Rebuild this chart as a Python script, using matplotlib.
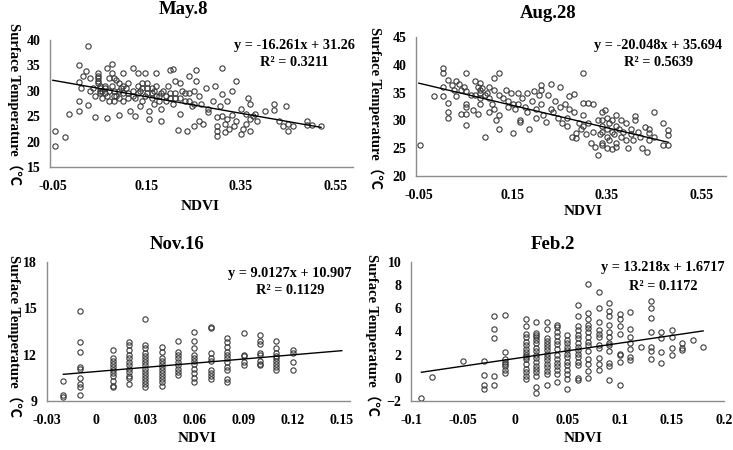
import matplotlib
matplotlib.use("Agg")
import matplotlib.pyplot as plt

# NDVI vs surface temperature, four dates

may_points = [
    (-0.046, 22.0), (-0.046, 19.2), (-0.025, 20.9), (-0.015, 25.5), (0.005, 35.0), (0.005, 31.8),
    (0.005, 28.0), (0.005, 26.0), (0.01, 30.5), (0.015, 33.0), (0.02, 33.8), (0.025, 38.8),
    (0.025, 27.3), (0.03, 30.0), (0.03, 32.5), (0.04, 24.8), (0.04, 29.0), (0.045, 33.5),
    (0.045, 33.0), (0.045, 32.5), (0.045, 32.0), (0.045, 31.5), (0.05, 31.0), (0.05, 30.5),
    (0.05, 30.0), (0.05, 29.5), (0.055, 28.5), (0.06, 30.5), (0.06, 31.0), (0.065, 34.5),
    (0.065, 29.0), (0.065, 24.6), (0.07, 32.5), (0.07, 28.0), (0.075, 35.3), (0.075, 33.5),
    (0.075, 31.0), (0.08, 32.5), (0.08, 30.0), (0.085, 32.2), (0.085, 29.0), (0.09, 25.2),
    (0.09, 28.5), (0.095, 30.5), (0.1, 33.5), (0.1, 31.0), (0.1, 28.0), (0.11, 29.5),
    (0.115, 26.0), (0.12, 34.5), (0.12, 30.0), (0.125, 28.5), (0.125, 25.0), (0.13, 33.5),
    (0.13, 31.0), (0.135, 27.0), (0.14, 30.5), (0.14, 28.0), (0.145, 33.5), (0.15, 31.5),
    (0.15, 29.5), (0.155, 26.0), (0.155, 24.5), (0.16, 30.5), (0.16, 28.5), (0.165, 27.5),
    (0.17, 33.5), (0.17, 31.0), (0.175, 29.0), (0.18, 26.5), (0.18, 24.0), (0.185, 30.0),
    (0.19, 28.0), (0.195, 31.0), (0.2, 34.0), (0.2, 29.5), (0.205, 34.3), (0.205, 27.5),
    (0.21, 32.0), (0.21, 28.5), (0.215, 22.2), (0.22, 31.5), (0.22, 25.5), (0.225, 30.0),
    (0.23, 28.0), (0.235, 22.0), (0.24, 33.0), (0.24, 29.5), (0.245, 27.0), (0.25, 30.0),
    (0.25, 23.0), (0.255, 32.0), (0.255, 34.0), (0.26, 29.0), (0.26, 24.0), (0.265, 27.5),
    (0.27, 23.5), (0.275, 30.5), (0.28, 26.5), (0.28, 25.8), (0.29, 28.0), (0.295, 31.0),
    (0.3, 24.8), (0.3, 23.0), (0.3, 22.0), (0.3, 21.2), (0.305, 27.0), (0.31, 34.5),
    (0.31, 29.3), (0.31, 25.0), (0.315, 23.5), (0.315, 21.8), (0.32, 28.0), (0.32, 24.5),
    (0.325, 22.5), (0.33, 30.0), (0.33, 25.3), (0.335, 23.0), (0.34, 32.0), (0.34, 24.0),
    (0.35, 26.5), (0.35, 21.5), (0.355, 22.5), (0.36, 25.5), (0.36, 23.5), (0.365, 28.5),
    (0.37, 27.5), (0.37, 24.5), (0.37, 22.0), (0.375, 25.0), (0.38, 25.5), (0.385, 24.0),
    (0.4, 26.0), (0.42, 27.5), (0.42, 26.2), (0.43, 24.0), (0.44, 23.0), (0.445, 27.0),
    (0.45, 22.0), (0.45, 23.5), (0.46, 23.0), (0.49, 24.0), (0.49, 23.2), (0.5, 23.3),
    (0.52, 23.0), (0.035, 30.5), (0.055, 30.0), (0.06, 29.5), (0.07, 30.0), (0.08, 29.0),
    (0.09, 30.0), (0.1, 29.5), (0.105, 30.5), (0.11, 28.5), (0.12, 29.0), (0.13, 29.5),
    (0.135, 30.0), (0.145, 29.0), (0.15, 30.5), (0.16, 29.5), (0.165, 30.0), (0.175, 28.0),
    (0.18, 29.5), (0.19, 29.0), (0.2, 28.5), (0.21, 29.5), (0.22, 28.5), (0.23, 29.5),
    (0.24, 28.0), (0.25, 27.5), (0.08, 28.0), (0.09, 31.5), (0.11, 31.5), (0.14, 31.5),
    (0.17, 29.0),
]

aug_points = [
    (-0.048, 25.5), (-0.018, 34.3), (0.002, 39.4), (0.002, 38.5), (0.002, 36.0), (0.002, 34.4),
    (0.012, 37.3), (0.012, 33.1), (0.012, 31.6), (0.012, 30.4), (0.02, 36.3), (0.025, 35.5),
    (0.03, 37.0), (0.03, 34.3), (0.035, 36.5), (0.04, 35.5), (0.04, 31.2), (0.045, 36.0),
    (0.05, 38.5), (0.05, 35.3), (0.05, 33.0), (0.05, 32.5), (0.05, 31.2), (0.05, 29.2),
    (0.06, 34.5), (0.065, 31.8), (0.07, 37.0), (0.07, 34.5), (0.075, 36.0), (0.075, 31.2),
    (0.08, 36.8), (0.08, 35.5), (0.08, 35.0), (0.08, 34.0), (0.08, 33.0), (0.085, 35.8),
    (0.09, 34.5), (0.09, 27.0), (0.095, 35.0), (0.1, 36.0), (0.1, 34.0), (0.1, 31.5),
    (0.105, 33.0), (0.11, 37.7), (0.11, 35.5), (0.11, 32.0), (0.115, 30.0), (0.12, 38.5),
    (0.12, 34.5), (0.12, 31.0), (0.12, 28.4), (0.13, 34.0), (0.135, 35.5), (0.14, 33.5),
    (0.14, 32.5), (0.145, 35.0), (0.15, 33.0), (0.15, 27.8), (0.155, 32.0), (0.16, 35.0),
    (0.16, 33.0), (0.165, 30.0), (0.165, 29.8), (0.17, 34.0), (0.175, 32.5), (0.18, 35.0),
    (0.18, 31.5), (0.185, 28.5), (0.19, 33.5), (0.195, 35.3), (0.2, 32.0), (0.2, 30.5),
    (0.205, 34.5), (0.21, 36.4), (0.21, 35.5), (0.21, 33.0), (0.215, 31.0), (0.22, 29.8),
    (0.225, 34.5), (0.23, 36.6), (0.23, 32.0), (0.235, 31.5), (0.24, 33.5), (0.245, 30.5),
    (0.25, 36.0), (0.25, 32.5), (0.255, 29.5), (0.26, 33.0), (0.265, 30.5), (0.265, 29.0),
    (0.27, 34.3), (0.27, 32.0), (0.275, 27.0), (0.28, 34.8), (0.28, 31.5), (0.285, 27.8),
    (0.285, 26.8), (0.29, 29.5), (0.295, 28.5), (0.3, 38.5), (0.3, 33.2), (0.3, 31.0),
    (0.3, 29.0), (0.305, 27.5), (0.31, 33.2), (0.31, 29.5), (0.315, 26.0), (0.32, 33.0),
    (0.32, 28.0), (0.325, 25.2), (0.33, 23.8), (0.33, 30.0), (0.335, 27.5), (0.34, 31.5),
    (0.34, 30.0), (0.34, 29.0), (0.34, 28.0), (0.34, 26.0), (0.34, 25.5), (0.345, 31.8),
    (0.35, 30.5), (0.35, 28.5), (0.35, 27.0), (0.35, 25.0), (0.355, 29.5), (0.355, 26.5),
    (0.36, 30.0), (0.36, 28.0), (0.36, 24.8), (0.365, 27.5), (0.37, 31.0), (0.37, 29.0),
    (0.37, 26.0), (0.37, 25.3), (0.375, 28.5), (0.38, 30.0), (0.38, 27.0), (0.385, 28.0),
    (0.39, 29.5), (0.39, 26.5), (0.395, 25.0), (0.4, 28.5), (0.4, 27.5), (0.405, 26.5),
    (0.41, 30.8), (0.41, 30.0), (0.415, 28.0), (0.42, 27.0), (0.425, 25.0), (0.43, 28.8),
    (0.435, 24.3), (0.44, 28.5), (0.44, 27.8), (0.44, 26.5), (0.45, 31.6), (0.45, 27.0),
    (0.47, 29.5), (0.48, 28.2), (0.48, 27.4), (0.48, 25.5), (0.47, 25.5),
]

# Nov and Feb NDVI values are discrete, so points come in columns
nov_ndvi = [-0.02, -0.01, 0.01, 0.02, 0.03, 0.04, 0.05, 0.06, 0.07, 0.08, 0.09, 0.10, 0.11, 0.12]
nov_temp = [
    [10.3, 9.4, 9.25],
    [14.8, 12.8, 12.2, 11.2, 11.1, 10.5, 10.1, 9.9, 9.4],
    [12.3, 11.8, 11.6, 11.4, 11.2, 11.0, 10.8, 10.6, 10.3, 10.0, 9.9],
    [12.8, 12.6, 12.3, 12.0, 11.8, 11.5, 11.3, 11.1, 10.9, 10.6, 10.5, 10.1],
    [14.3, 12.6, 12.4, 12.1, 11.9, 11.7, 11.5, 11.3, 11.1, 10.9, 10.7, 10.5, 10.3, 10.1, 9.9],
    [12.5, 12.2, 11.8, 11.6, 11.4, 11.2, 11.0, 10.8, 10.6, 10.4, 10.2, 10.0],
    [12.9, 12.2, 12.0, 11.8, 11.5, 11.3, 11.1, 10.9, 10.7],
    [13.5, 12.9, 12.4, 12.0, 11.8, 11.6, 11.4, 11.1, 10.8, 10.5, 10.2],
    [13.8, 13.7, 12.1, 11.8, 11.6, 11.0, 10.8, 10.6, 10.4],
    [13.1, 12.8, 12.5, 12.2, 12.0, 11.8, 11.5, 11.2, 11.0, 10.4, 10.2],
    [13.4, 12.0, 11.9, 11.5, 11.3],
    [13.3, 12.9, 12.7, 12.1, 12.0, 11.6, 11.4, 11.3],
    [12.9, 12.4, 12.1, 11.9, 11.8, 11.6, 11.4, 11.2, 11.0],
    [12.3, 12.1, 11.5, 11.0],
]

feb_ndvi = [-0.09, -0.08, -0.05, -0.03, -0.02, -0.01, 0.01, 0.02, 0.03, 0.04, 0.05, 0.06,
            0.07, 0.08, 0.09, 0.10, 0.11, 0.12, 0.13, 0.14, 0.15, 0.16, 0.17, 0.18]
feb_temp = [
    [-1.75],
    [0.03],
    [1.45],
    [1.45, 0.23, -0.65, -0.95],
    [5.3, 4.2, 3.4, 0.2, -0.6],
    [5.4, 2.2, 1.6, 1.4, 1.2, 1.0, 0.7, 0.4],
    [5.1, 4.5, 3.8, 3.5, 3.1, 2.8, 2.5, 2.2, 2.0, 1.8, 1.6, 1.2, 0.8, 0.5, 0.2, -0.1],
    [4.8, 3.9, 3.7, 3.5, 3.3, 3.0, 2.6, 2.3, 2.0, 1.7, 1.4, 1.0, 0.8, 0.5, 0.2, -0.8, -1.3],
    [4.8, 4.2, 3.4, 3.2, 2.9, 2.7, 2.4, 2.1, 1.8, 1.5, 1.2, 0.9, 0.6, 0.3, -0.6],
    [4.6, 4.4, 4.0, 3.6, 3.2, 2.9, 2.5, 2.0, 1.6, 1.3, 1.0, 0.7, 0.3, -0.4],
    [3.7, 3.3, 3.0, 2.7, 2.4, 2.1, 1.8, 1.4, 1.1, 0.7, 0.3, -0.1, -1.0],
    [6.3, 5.3, 4.5, 4.1, 3.7, 3.4, 3.0, 2.7, 2.4, 2.1, 1.8, 1.4, 1.1, 0.0, -0.2],
    [8.1, 5.6, 5.1, 4.6, 4.3, 4.0, 3.5, 3.1, 2.8, 2.3, 1.6, 1.2, 0.6, 0.0],
    [7.4, 6.0, 4.8, 4.1, 3.8, 3.5, 2.8, 2.6, 1.7, 1.2, 0.7],
    [6.5, 5.8, 5.3, 4.6, 4.0, 3.5, 3.0, 2.8, 2.3, 1.3, 1.0, -0.2],
    [5.5, 5.1, 4.5, 3.8, 2.1, 2.0, 1.4, -0.6],
    [5.7, 4.2, 3.5, 3.0, 2.5, 1.8, 1.5],
    [2.7],
    [6.6, 6.0, 5.2, 4.0, 2.7, 2.3, 1.6],
    [4.0, 3.4, 2.2, 1.3],
    [4.1, 3.5, 2.6, 2.0],
    [3.0, 2.6, 2.4],
    [3.3],
    [2.7],
]

titles = ["May.8", "Aug.28", "Nov.16", "Feb.2"]
slopes = [-16.261, -20.048, 9.0127, 13.218]
intercepts = [31.26, 35.694, 10.907, 1.6717]
equations = ["y = -16.261x + 31.26", "y = -20.048x + 35.694",
             "y = 9.0127x + 10.907", "y = 13.218x + 1.6717"]
r2_labels = ["R² = 0.3211", "R² = 0.5639", "R² = 0.1129", "R² = 0.1172"]
fit_ranges = [(-0.05, 0.52), (-0.05, 0.48), (-0.02, 0.15), (-0.09, 0.18)]

xlims = [(-0.056, 0.588), (-0.056, 0.603), (-0.03, 0.155), (-0.1, 0.2)]
ylims = [(15, 40), (20, 45), (9, 18), (-2, 10)]
xticks = [[-0.05, 0.15, 0.35, 0.55], [-0.05, 0.15, 0.35, 0.55],
          [-0.03, 0, 0.03, 0.06, 0.09, 0.12, 0.15],
          [-0.1, -0.05, 0, 0.05, 0.1, 0.15, 0.2]]
xticklabels = [["-0.05", "0.15", "0.35", "0.55"], ["-0.05", "0.15", "0.35", "0.55"],
               ["-0.03", "0", "0.03", "0.06", "0.09", "0.12", "0.15"],
               ["-0.1", "-0.05", "0", "0.05", "0.1", "0.15", "0.2"]]
yticks = [[15, 20, 25, 30, 35, 40], [20, 25, 30, 35, 40, 45], [9, 12, 15, 18],
          [-2, 0, 2, 4, 6, 8, 10]]

# panel boxes in pixels: left, right, top, bottom
boxes = [(50, 353, 40, 167), (416, 726, 37, 176), (47, 350, 262, 401), (411, 724, 262, 401)]
title_pos = [(183, 10), (548, 14), (177, 245), (553, 245)]
eq_pos = [(294, 46, 63), (658, 46, 62), (290, 274, 290), (663, 268, 286)]
ylab_pos = [(15, 104), (376, 108), (15, 336), (373, 335)]
xlab_pos = [(200, 207), (583, 212), (197, 438), (583, 438)]

W, H = 733, 450
serif = ["Liberation Serif", "Noto Sans CJK SC"]
plt.rcParams["font.family"] = serif
plt.rcParams["font.weight"] = "bold"

fig = plt.figure(figsize=(W / 100, H / 100), dpi=100)

for i in range(4):
    if i == 0:
        xs = [p[0] for p in may_points]
        ys = [p[1] for p in may_points]
    elif i == 1:
        xs = [p[0] for p in aug_points]
        ys = [p[1] for p in aug_points]
    elif i == 2:
        xs = [x for x, col in zip(nov_ndvi, nov_temp) for _ in col]
        ys = [y for col in nov_temp for y in col]
    else:
        xs = [x for x, col in zip(feb_ndvi, feb_temp) for _ in col]
        ys = [y for col in feb_temp for y in col]

    l, r, t, b = boxes[i]
    ax = fig.add_axes([l / W, 1 - b / H, (r - l) / W, (b - t) / H])
    ax.plot(xs, ys, linestyle="none", marker="o", ms=3.8, mfc="none",
            mec="#3a3a3a", mew=0.8, clip_on=False)
    x0, x1 = fit_ranges[i]
    ax.plot([x0, x1], [slopes[i] * x0 + intercepts[i], slopes[i] * x1 + intercepts[i]],
            color="black", lw=1.0)

    ax.set_xlim(*xlims[i])
    ax.set_ylim(*ylims[i])
    ax.set_xticks(xticks[i])
    ax.set_xticklabels(xticklabels[i])
    ax.set_yticks(yticks[i])
    for s in ["top", "right"]:
        ax.spines[s].set_visible(False)
    for s in ["left", "bottom"]:
        ax.spines[s].set_color("#8c8c8c")
        ax.spines[s].set_linewidth(1.0)
    ax.tick_params(length=0, labelsize=10)
    ax.tick_params(axis="x", pad=9)
    ax.tick_params(axis="y", pad=7)
    for lab in ax.get_xticklabels() + ax.get_yticklabels():
        lab.set_fontweight("bold")

    tx, ty = title_pos[i]
    fig.text(tx / W, 1 - ty / H, titles[i], ha="center", va="center",
             fontsize=13.5, fontweight="bold")
    ex, ey1, ey2 = eq_pos[i]
    fig.text(ex / W, 1 - ey1 / H, equations[i], ha="center", va="center",
             fontsize=10.3, fontweight="bold")
    fig.text(ex / W, 1 - ey2 / H, r2_labels[i], ha="center", va="center",
             fontsize=10.3, fontweight="bold")
    yx, yy = ylab_pos[i]
    fig.text(yx / W, 1 - yy / H, "Surface Temperature（℃", ha="center", va="center",
             rotation=-90, fontsize=10.5, fontweight="bold")
    nx, ny = xlab_pos[i]
    fig.text(nx / W, 1 - ny / H, "NDVI", ha="center", va="center",
             fontsize=11, fontweight="bold")

fig.savefig("out.png", dpi=100)
